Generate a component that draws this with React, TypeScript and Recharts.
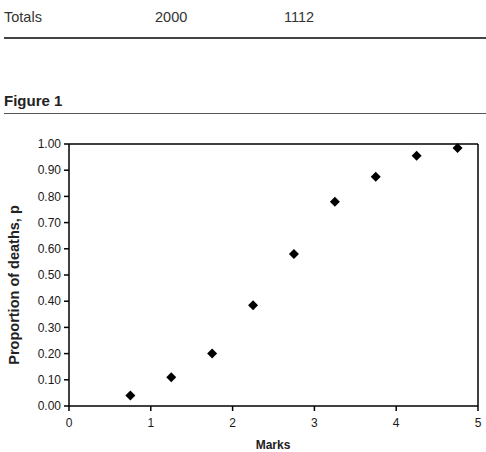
import React from "react"
import { ScatterChart, Scatter, XAxis, YAxis, ReferenceLine, Label } from "recharts"

// table row above the figure
const totalsRow = ["Totals", "2000", "1112"]

// figure 1 data
const markValues = [0.75, 1.25, 1.75, 2.25, 2.75, 3.25, 3.75, 4.25, 4.75]
const deathProportions = [0.04, 0.11, 0.2, 0.385, 0.58, 0.78, 0.875, 0.955, 0.985]
const xTicks = [0, 1, 2, 3, 4, 5]
const yTicks = [0, 0.1, 0.2, 0.3, 0.4, 0.5, 0.6, 0.7, 0.8, 0.9, 1]

const data = markValues.map((x, i) => ({ x, p: deathProportions[i] }))

const FONT = "'Liberation Sans', Arial, Helvetica, sans-serif"

const Diamond = (props: any) => {
  const { cx, cy } = props
  const r = 5
  return <path d={`M${cx},${cy - r}L${cx + r},${cy}L${cx},${cy + r}L${cx - r},${cy}Z`} fill="#000" />
}

export default function App() {
  return (
    <div
      style={{
        position: "fixed",
        left: 0,
        top: 0,
        width: 486,
        height: 452,
        overflow: "hidden",
        background: "#fff",
        fontFamily: FONT,
        color: "#333",
      }}
    >
      <div style={{ position: "absolute", left: 4, top: 9, fontSize: 14.5 }}>{totalsRow[0]}</div>
      <div style={{ position: "absolute", left: 155, top: 9, fontSize: 14.5 }}>{totalsRow[1]}</div>
      <div style={{ position: "absolute", left: 284, top: 9, fontSize: 14.5 }}>{totalsRow[2]}</div>
      <div style={{ position: "absolute", left: 4, top: 37, width: 482, height: 2, background: "#444" }} />

      <div style={{ position: "absolute", left: 4, top: 92, fontSize: 15, fontWeight: "bold", color: "#222" }}>
        Figure 1
      </div>
      <div style={{ position: "absolute", left: 4, top: 113, width: 482, height: 1, background: "#555" }} />

      <div style={{ position: "absolute", left: 0, top: 130 }}>
        <ScatterChart width={486} height={322} margin={{ top: 14, right: 8, bottom: 0, left: 0 }}>
          <XAxis
            type="number"
            dataKey="x"
            domain={[0, 5]}
            ticks={xTicks}
            height={46}
            tickSize={5}
            tickMargin={7}
            axisLine={{ stroke: "#000", strokeWidth: 1.5 }}
            tickLine={{ stroke: "#000", strokeWidth: 1.5 }}
            tick={{ fill: "#1a1a1a", fontSize: 12 }}
          >
            <Label
              content={() => (
                <text x={273} y={319} textAnchor="middle" fontSize={12} fontWeight="bold" fill="#222">
                  Marks
                </text>
              )}
            />
          </XAxis>
          <YAxis
            type="number"
            dataKey="p"
            domain={[0, 1]}
            ticks={yTicks}
            width={69}
            tickSize={5}
            tickMargin={3}
            tickFormatter={(v: number) => v.toFixed(2)}
            axisLine={{ stroke: "#000", strokeWidth: 1.5 }}
            tickLine={{ stroke: "#000", strokeWidth: 1.5 }}
            tick={{ fill: "#1a1a1a", fontSize: 12 }}
          >
            <Label
              content={() => (
                <text
                  x={14}
                  y={155}
                  transform="rotate(-90 14 155)"
                  textAnchor="middle"
                  dominantBaseline="central"
                  fontSize={14.5}
                  fontWeight="bold"
                  fill="#222"
                >
                  Proportion of deaths, p
                </text>
              )}
            />
          </YAxis>
          <ReferenceLine y={1} stroke="#000" strokeWidth={1.5} />
          <ReferenceLine x={5} stroke="#000" strokeWidth={1.5} />
          <Scatter data={data} shape={<Diamond />} isAnimationActive={false} />
        </ScatterChart>
      </div>
    </div>
  )
}
